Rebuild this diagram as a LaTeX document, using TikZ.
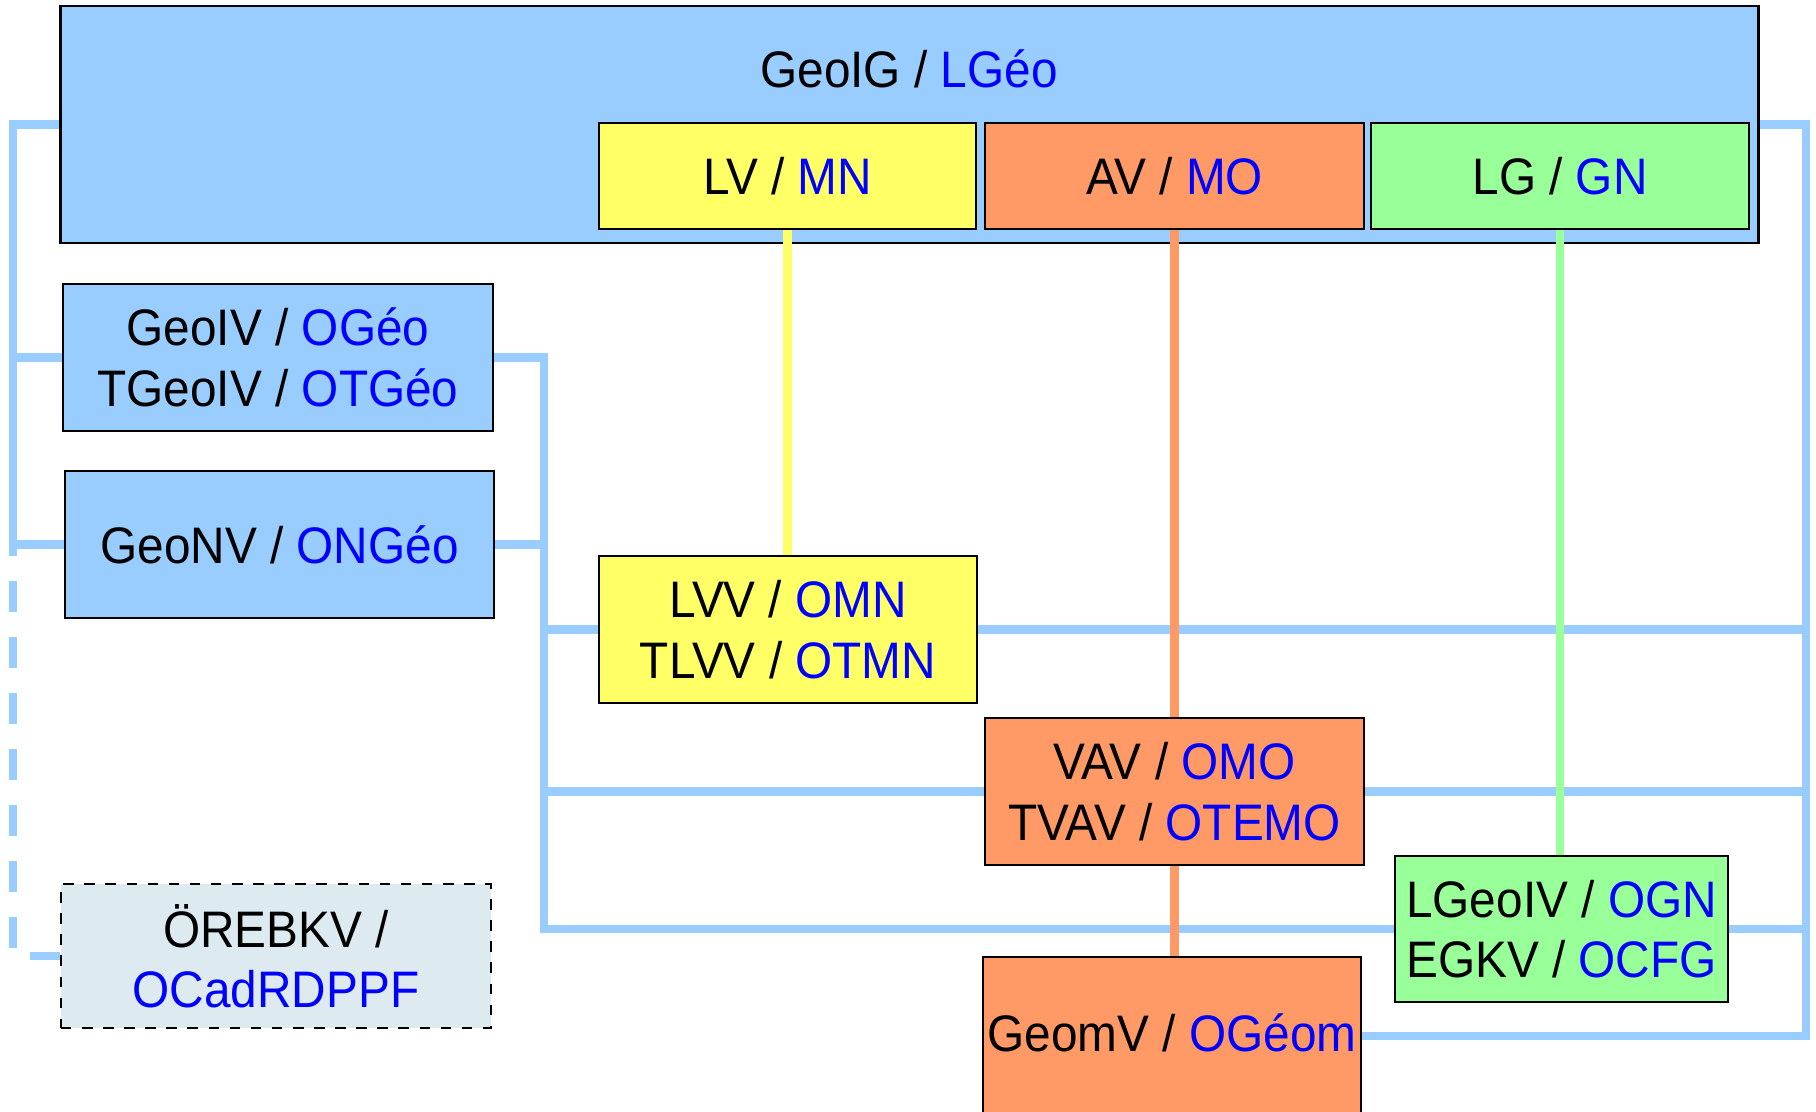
\documentclass[tikz,border=0pt]{standalone}
\usepackage{fontspec}
\setmainfont{Liberation Sans}[FakeStretch=0.93]
\definecolor{geoblue}{HTML}{99CCFF}
\definecolor{lvyellow}{HTML}{FFFF66}
\definecolor{avorange}{HTML}{FF9966}
\definecolor{lggreen}{HTML}{99FF99}
\definecolor{frblue}{HTML}{0000FF}
\definecolor{orebfill}{HTML}{DDEBF0}
\newcommand{\fr}[1]{\textcolor{frblue}{#1}}

\begin{document}
\begin{tikzpicture}[x=0.01cm, y=-0.01cm,
    font=\fontsize{14.6}{17.2}\selectfont,
    box/.style={draw=black, line width=0.6pt, align=center, inner sep=0pt},
    bus/.style={geoblue, line width=2.3pt},
    link/.style={line width=2.3pt}]
  \useasboundingbox (0,0) rectangle (1816,1111);
  \clip (0,0) rectangle (1816,1111);

  % top level
  \node[box, fill=geoblue, minimum width=16.97cm, minimum height=2.37cm] (geoig) at (909.5,124.5) {};
  \node (geoigtxt) at (909,69) {GeoIG / \fr{LGéo}};
  \node[box, fill=lvyellow, minimum width=3.77cm, minimum height=1.06cm] (lv) at (787.5,176) {LV / \fr{MN}};
  \node[box, fill=avorange, minimum width=3.79cm, minimum height=1.06cm] (av) at (1174.5,176) {AV / \fr{MO}};
  \node[box, fill=lggreen, minimum width=3.78cm, minimum height=1.06cm] (lg) at (1560,176) {LG / \fr{GN}};

  % ordinances
  \node[box, fill=geoblue, minimum width=4.30cm, minimum height=1.47cm] (geoiv) at (278,357.5) {GeoIV / \fr{OGéo}\\TGeoIV / \fr{OTGéo}};
  \node[box, fill=geoblue, minimum width=4.29cm, minimum height=1.47cm] (geonv) at (279.5,544.5) {GeoNV / \fr{ONGéo}};
  \node[box, fill=lvyellow, minimum width=3.78cm, minimum height=1.47cm] (lvv) at (788,629.5) {LVV / \fr{OMN}\\TLVV / \fr{OTMN}};
  \node[box, fill=avorange, minimum width=3.79cm, minimum height=1.47cm] (vav) at (1174.5,791.5) {VAV / \fr{OMO}\\TVAV / \fr{OTEMO}};
  \node[box, fill=lggreen, minimum width=3.33cm, minimum height=1.46cm] (lgeoiv) at (1561.5,929) {LGeoIV / \fr{OGN}\\EGKV / \fr{OCFG}};
  \node[box, fill=avorange, minimum width=3.78cm, minimum height=1.8cm, text height=0.38cm, text depth=0.3cm] (geomv) at (1172,1047) {GeomV / \fr{OGéom}};
  \node[box, dashed, fill=orebfill, minimum width=4.30cm, minimum height=1.44cm] (oreb) at (276,956) {ÖREBKV /\\\fr{OCadRDPPF}};

  \coordinate (lbus) at (13,0);
  \coordinate (mbus) at (544,0);
  \coordinate (rbus) at (1806,0);
  \coordinate (geomvin) at ([yshift=0.06cm]geomv.mid east);

  % blue lines
  \draw[bus] (geoig.west) -| (lbus |- geonv.west) -- (geonv.west);
  \draw[bus] (geoiv.west) -- (geoiv.west -| lbus);
  \draw[bus, dash pattern=on 0.31cm off 0.25cm, dash phase=0.195cm] (geonv.west -| lbus) |- (oreb.west);
  \draw[bus] (geoiv.east) -| (lgeoiv.west -| mbus) -- (lgeoiv.west);
  \draw[bus] (geonv.east) -- (geonv.east -| mbus);
  \draw[bus] (lvv.west -| mbus) -- (lvv.west);
  \draw[bus] (vav.west -| mbus) -- (vav.west);
  \draw[bus] (geoig.east) -| (geomvin -| rbus) -- (geomvin);
  \draw[bus] (lvv.east) -- (lvv.east -| rbus);
  \draw[bus] (vav.east) -- (vav.east -| rbus);
  \draw[bus] (lgeoiv.east) -- (lgeoiv.east -| rbus);

  % coloured lines
  \draw[link, lvyellow] (lv.south) -- (lv.south |- lvv.north);
  \draw[link, avorange] (av.south) -- (av.south |- vav.north);
  \draw[link, avorange] (vav.south) -- (vav.south |- geomv.north);
  \draw[link, lggreen] (lg.south) -- (lg.south |- lgeoiv.north);
\end{tikzpicture}
\end{document}
